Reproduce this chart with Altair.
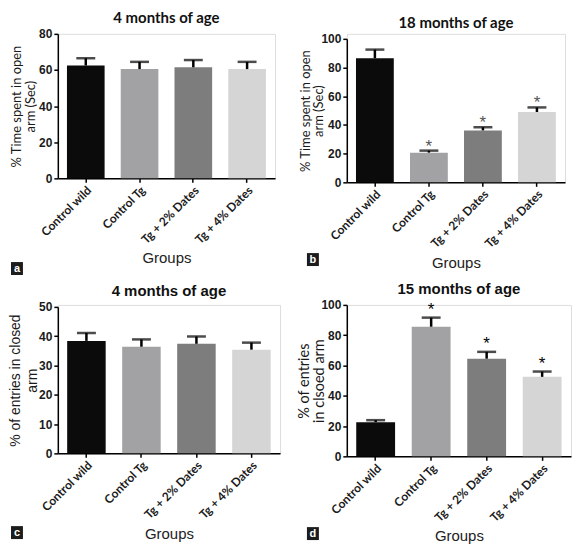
import altair as alt
import pandas as pd

groups = ["Control wild", "Control Tg", "Tg + 2% Dates", "Tg + 4% Dates"]
colors = ["#0b0b0b", "#a2a2a4", "#7d7d7d", "#d5d5d5"]

a_mean = [62.5, 60.5, 61.5, 60.5]
a_sem = [4.0, 4.0, 4.0, 4.0]
b_mean = [86.5, 20.7, 36.2, 49.0]
b_sem = [6.0, 1.4, 2.2, 3.2]
c_mean = [38.4, 36.4, 37.4, 35.4]
c_sem = [2.7, 2.5, 2.5, 2.4]
d_mean = [22.6, 85.6, 64.5, 52.5]
d_sem = [1.3, 6.0, 4.5, 3.5]
b_stars = ["", "*", "*", "*"]
d_stars = ["", "*", "*", "*"]
no_stars = ["", "", "", ""]

CAL = "Lato"
ARI = "Liberation Sans"


def panel(mean, sem, stars, title, ytitle, ymax, ystep, width, height, top,
          letter, box, title_font, ytitle_font, ytitle_size, ytitle_lh,
          ytitle_x, star_color, star_dy, groups_y, title_size=15):
    df = pd.DataFrame({
        "group": groups,
        "mean": mean,
        "upper": [m + s for m, s in zip(mean, sem)],
        "star": stars,
    })
    base = alt.Chart(df)
    xaxis = alt.Axis(title="Groups", labelAngle=-45, labelFont=CAL,
                     labelFontSize=12, labelFontWeight="bold",
                     labelColor="#1a1a1a", titleFont=ARI,
                     titleFontSize=15, titleFontWeight="normal",
                     titleColor="#222", titleY=groups_y,
                     titleBaseline="middle",
                     domainColor="black", domainWidth=1.5,
                     tickColor="black", tickWidth=1.5, tickSize=4)
    xscale = alt.Scale(paddingInner=0.3, paddingOuter=0.17)

    def xenc():
        return alt.X("group:N", sort=groups, scale=xscale, axis=xaxis)

    yscale = alt.Scale(domain=[0, ymax], range=[height, top], nice=False)
    yaxis = alt.Axis(title=ytitle, values=list(range(0, ymax + 1, ystep)),
                     labelOverlap=False,
                     labelFont=ARI, labelFontSize=12, labelFontWeight="bold",
                     labelColor="#1a1a1a", titleFont=ytitle_font,
                     titleFontSize=ytitle_size, titleFontWeight="normal",
                     titleColor="#1a1a1a", titleLineHeight=ytitle_lh,
                     titleX=ytitle_x, titleY=(height + top) / 2,
                     titleAngle=270, titleBaseline="middle",
                     titleAlign="center",
                     domainColor="black", domainWidth=1.5,
                     tickColor="black", tickWidth=1.5, tickSize=4, grid=False)

    def yenc(field):
        return alt.Y(field, scale=yscale, axis=yaxis)

    bars = base.mark_bar().encode(
        x=xenc(),
        y=yenc("mean:Q"),
        color=alt.Color("group:N", scale=alt.Scale(domain=groups, range=colors),
                        legend=None),
    )
    stem = base.mark_rule(color="black", strokeWidth=2.5).encode(
        x=xenc(), y=yenc("mean:Q"), y2="upper:Q")
    cap = base.mark_tick(color="black", size=19, thickness=2.5).encode(
        x=xenc(), y=yenc("upper:Q"))
    star = base.mark_text(font=ARI, fontSize=17, color=star_color,
                          baseline="alphabetic", dy=star_dy).encode(
        x=xenc(), y=yenc("upper:Q"), text="star:N")
    lab = pd.DataFrame({"t": [letter]})
    rect = alt.Chart(lab).mark_rect(color="#1c1c1c").encode(
        x=alt.value(box[0]), x2=alt.value(box[0] + 12),
        y=alt.value(box[1]), y2=alt.value(box[1] + 13))
    txt = alt.Chart(lab).mark_text(color="white", font=ARI, fontSize=11,
                                   fontWeight="bold").encode(
        x=alt.value(box[0] + 6), y=alt.value(box[1] + 7), text="t:N")
    return alt.layer(bars, stem, cap, star, rect, txt).properties(
        width=width, height=height,
        title=alt.TitleParams(title, font=title_font, fontSize=title_size,
                              fontWeight="bold", color="#111", frame="group",
                              anchor="middle", offset=2),
    )


pa = panel(a_mean, a_sem, no_stars, "4 months of age",
           ["% Time spent in open", "arm (Sec)"], 80, 20, 218, 145, 0,
           "a", (-47, 229), CAL, CAL, 13, 14, -41, "black", 1, 79)
pb = panel(b_mean, b_sem, b_stars, "18 months of age",
           ["% Time spent in open", "arm (Sec)"], 100, 20, 219, 149, 5,
           "b", (-40, 220), CAL, CAL, 13, 13, -41, "#555", 1, 80)
pc = panel(c_mean, c_sem, no_stars, "4 months of age",
           ["% of entries in closed", "arm"], 50, 10, 223, 149, 2,
           "c", (-47, 222), ARI, ARI, 14, 17, -42, "black", 0, 80)
pd_ = panel(d_mean, d_sem, d_stars, "15 months of age",
            ["% of entries", "in clsoed arm"], 100, 20, 225, 152, 0,
            "d", (-40, 223), ARI, CAL, 14.5, 15, -42, "black", -3, 79)

chart = alt.concat(pa, pb, pc, pd_, columns=2,
                   spacing={"row": 123, "column": 67}, bounds="flush").properties(
    padding={"top": 1, "left": 0, "right": 0, "bottom": 0}
).configure_view(stroke=None).configure(background="white")

chart.save("out.html", embed_options={"renderer": "svg", "actions": False})
